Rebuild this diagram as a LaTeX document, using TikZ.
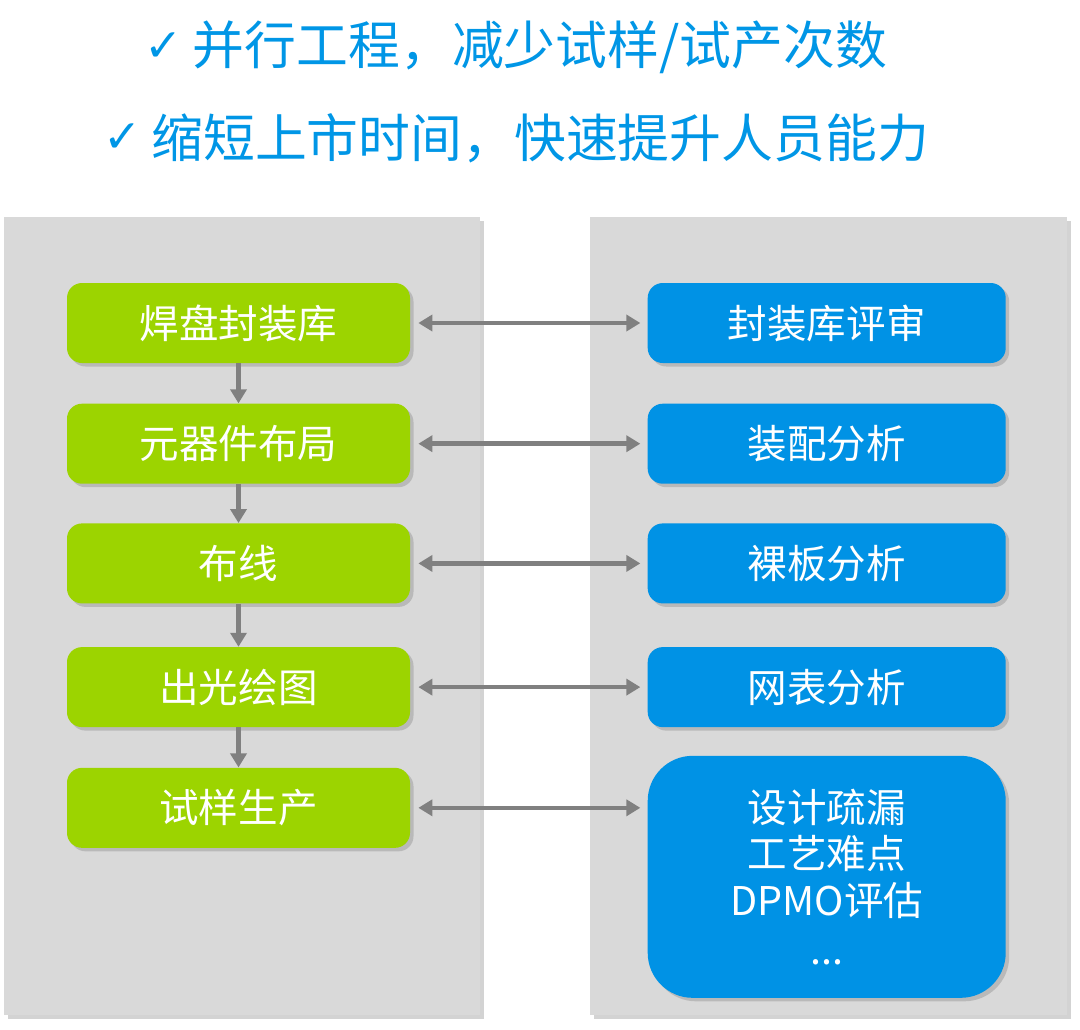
\documentclass[tikz,border=0pt]{standalone}
\usepackage{fontspec}
\setmainfont{Noto Sans CJK SC}
\newfontfamily\symfont{DejaVu Sans}
\usetikzlibrary{positioning,arrows.meta,shadows}

\definecolor{panelgray}{RGB}{217,217,217}
\definecolor{leafgreen}{RGB}{156,212,0}
\definecolor{skyblue}{RGB}{0,146,229}
\definecolor{titleblue}{RGB}{0,150,230}
\definecolor{arrowgray}{RGB}{128,128,128}

\tikzset{
  boxshadow/.style={drop shadow={shadow xshift=0.07cm,shadow yshift=-0.07cm,opacity=0.35}},
  panel/.style={fill=panelgray,boxshadow},
  gbox/.style={rounded corners=0.3cm,fill=leafgreen,text=white,inner sep=0pt,
    minimum width=6.86cm,minimum height=1.6cm,font=\fontsize{22.5}{26.5}\selectfont,boxshadow},
  bbox/.style={gbox,fill=skyblue,minimum width=7.16cm},
  title/.style={text=titleblue,inner sep=0pt,font=\fontsize{29.5}{34}\selectfont},
  tick/.style={text=titleblue,inner sep=0pt,font=\symfont\fontsize{26}{30}\selectfont},
  link/.style={draw=arrowgray,line width=2.6pt,shorten <=0.16cm,shorten >=0.14cm,
    {Triangle[length=0.28cm,width=0.32cm]}-{Triangle[length=0.28cm,width=0.32cm]}},
  flow/.style={draw=arrowgray,line width=2.8pt,-{Triangle[length=0.28cm,width=0.32cm]}}
}

\begin{document}
\begin{tikzpicture}
  \useasboundingbox (0,0) rectangle (21.6,-20.58);

  %headline
  \node[title,anchor=west] (t1) at (3.85,-0.94) {并行工程，减少试样/试产次数};
  \node[tick,left=0.18cm of t1] (c1) {✓};
  \node[title,anchor=west] (t2) at (3.02,-2.76) {缩短上市时间，快速提升人员能力};
  \node[tick,left=0.18cm of t2] (c2) {✓};

  %panels
  \path[panel] (0.08,-4.34) rectangle (9.6,-20.3);
  \path[panel] (11.8,-4.34) rectangle (21.34,-20.3);

  %design steps
  \node[gbox] (g1) at (4.77,-6.46) {焊盘封装库};
  \node[gbox,below=0.8cm of g1] (g2) {元器件布局};
  \node[gbox,below=0.78cm of g2] (g3) {布线};
  \node[gbox,below=0.86cm of g3] (g4) {出光绘图};
  \node[gbox,below=0.8cm of g4] (g5) {试样生产};

  %checks
  \node[bbox,right=4.74cm of g1] (b1) {封装库评审};
  \node[bbox,right=4.74cm of g2] (b2) {装配分析};
  \node[bbox,right=4.74cm of g3] (b3) {裸板分析};
  \node[bbox,right=4.74cm of g4] (b4) {网表分析};
  \node[bbox,below=0.56cm of b4,minimum height=4.84cm,rounded corners=0.9cm,align=center] (b5)
    {设计疏漏\\工艺难点\\DPMO评估\\[0.05cm]...};

  %arrows
  \foreach \a/\b in {g1/g2,g2/g3,g3/g4,g4/g5}
    \draw[flow] (\a.south) -- (\b.north);
  \foreach \a/\b in {g1/b1,g2/b2,g3/b3,g4/b4}
    \draw[link] (\a.east) -- (\b.west);
  \draw[link] (g5.east) -- (g5.east -| b5.west);
\end{tikzpicture}
\end{document}
